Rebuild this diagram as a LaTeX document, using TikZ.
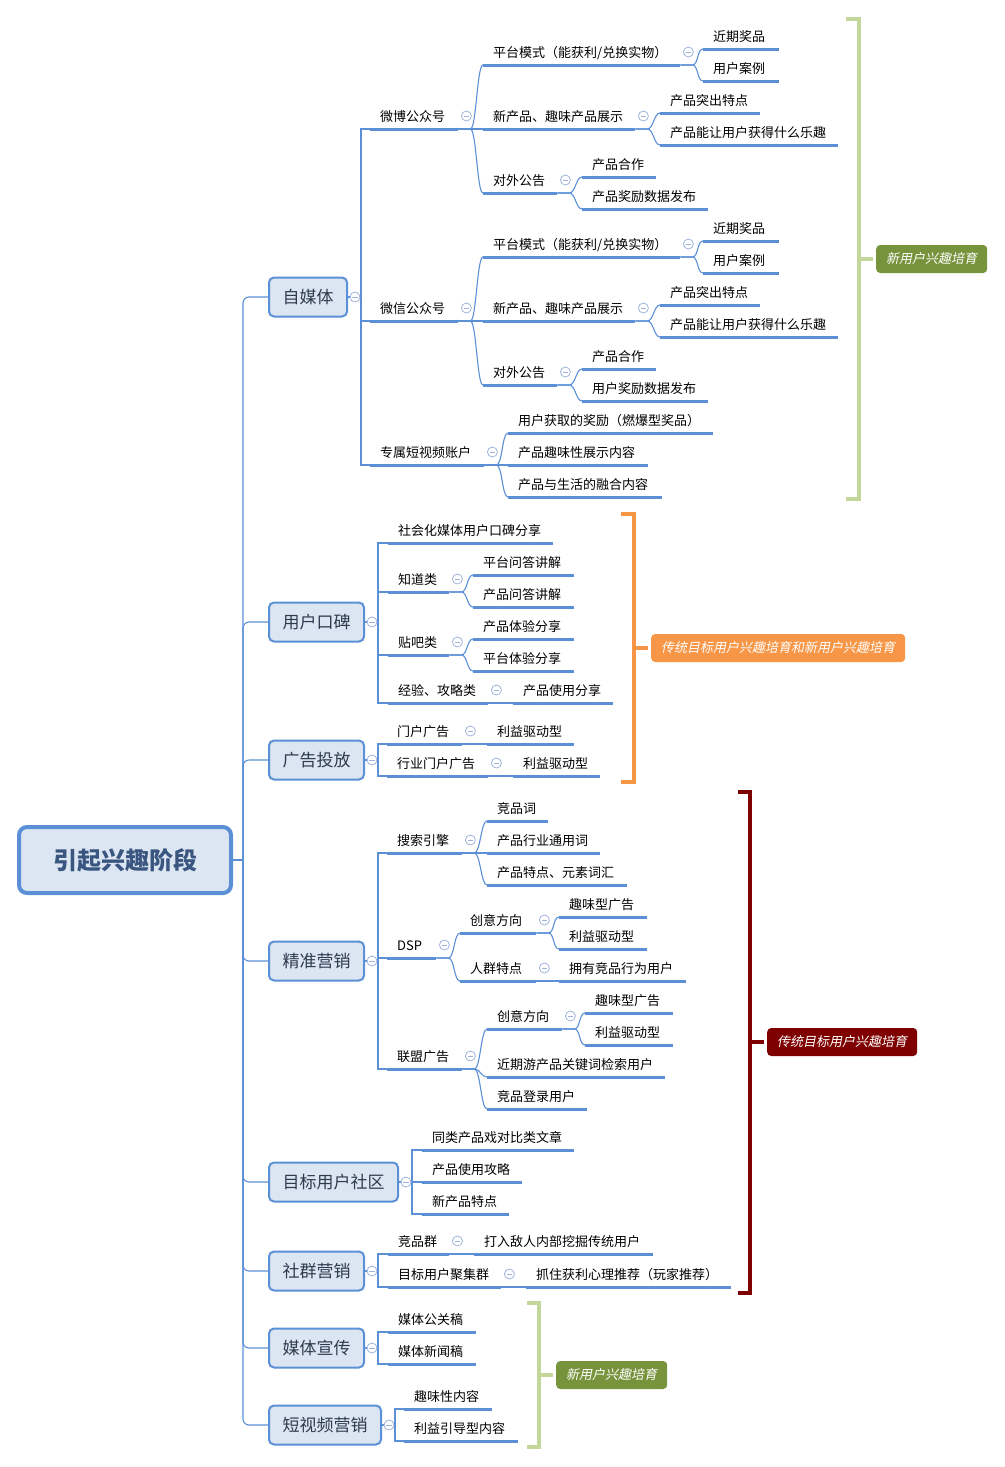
\documentclass[tikz,border=0pt]{standalone}
\usepackage{fontspec}
\setmainfont{Noto Sans CJK SC}
\newfontfamily\slantfont[FakeSlant=0.2]{Noto Sans CJK SC}

\definecolor{xblue}{HTML}{5B8FD6}
\definecolor{xpale}{HTML}{DCE6F2}
\definecolor{xtext}{HTML}{2E3B4E}
\definecolor{xroot}{HTML}{3A5680}
\definecolor{xfold}{HTML}{9FB4DC}
\definecolor{xgreenl}{HTML}{C4D79B}
\definecolor{xolive}{HTML}{77933C}
\definecolor{xorange}{HTML}{F79646}
\definecolor{xred}{HTML}{7F0000}

\tikzset{rootbox/.style = {draw=xblue, line width=4pt, fill=xpale, rounded corners=8pt,
                           minimum width=212pt, minimum height=66pt, text=xroot,
                           font=\fontsize{24}{28}\selectfont\bfseries},
         topbox/.style = {draw=xblue, line width=2pt, fill=xpale, rounded corners=5pt,
                          anchor=west, minimum height=39pt, inner xsep=13.5pt, text=xtext,
                          font=\fontsize{17}{20}\selectfont},
         sub/.style = {anchor=south west, inner xsep=10pt, inner ysep=5pt, align=left,
                       text height=11pt, text depth=2pt, font=\fontsize{13}{15}\selectfont},
         uline/.style = {draw=xblue, line width=3pt},
         conn/.style = {draw=xblue, line width=1.1pt},
         fold/.style = {circle, draw=xfold, fill=white, line width=0.8pt, minimum size=10pt,
                        inner sep=0pt,
                        path picture={\draw[xfold, line width=0.8pt]
                          ([xshift=-2.6pt]path picture bounding box.center) --
                          ([xshift=2.6pt]path picture bounding box.center);}},
         brk/.style = {line width=4pt},
         tag/.style = {anchor=west, rounded corners=4pt, minimum height=28pt, inner xsep=10pt,
                       text=white, font=\slantfont\fontsize{13}{15}\selectfont}
        }

\begin{document}
\begin{tikzpicture}[x=1pt,y=-1pt]
\useasboundingbox (0,0) rectangle (1004,1467);

% centre and main topics
\node[rootbox] at (125,860) (root) {引起兴趣阶段};
\node[topbox] at (268,297) (zm) {自媒体};
\node[topbox] at (268,622) (kb) {用户口碑};
\node[topbox] at (268,760) (gg) {广告投放};
\node[topbox] at (268,961) (jz) {精准营销};
\node[topbox] at (268,1182) (sq) {目标用户社区};
\node[topbox] at (268,1271) (sy) {社群营销};
\node[topbox] at (268,1348) (mt) {媒体宣传};
\node[topbox] at (268,1425) (dv) {短视频营销};

% 自媒体
\node[sub, text width=68pt] at (370,129) (wb) {微博公众号};
\node[sub, text width=68pt] at (370,321) (wx) {微信公众号};
\node[sub, text width=94pt] at (370,465) (zs) {专属短视频账户};
\node[sub, text width=177pt] at (483,65) (wb1) {平台模式（能获利/兑换实物）};
\node[sub, text width=132pt] at (483,129) (wb2) {新产品、趣味产品展示};
\node[sub, text width=54pt] at (483,193) (wb3) {对外公告};
\node[sub, text width=56pt] at (703,49) (wb11) {近期奖品};
\node[sub, text width=56pt] at (703,81) (wb12) {用户案例};
\node[sub, text width=80pt] at (660,113) (wb21) {产品突出特点};
\node[sub, text width=158pt] at (660,145) (wb22) {产品能让用户获得什么乐趣};
\node[sub, text width=54pt] at (582,177) (wb31) {产品合作};
\node[sub, text width=106pt] at (582,209) (wb32) {产品奖励数据发布};
\node[sub, text width=177pt] at (483,257) (wx1) {平台模式（能获利/兑换实物）};
\node[sub, text width=132pt] at (483,321) (wx2) {新产品、趣味产品展示};
\node[sub, text width=54pt] at (483,385) (wx3) {对外公告};
\node[sub, text width=56pt] at (703,241) (wx11) {近期奖品};
\node[sub, text width=56pt] at (703,273) (wx12) {用户案例};
\node[sub, text width=80pt] at (660,305) (wx21) {产品突出特点};
\node[sub, text width=158pt] at (660,337) (wx22) {产品能让用户获得什么乐趣};
\node[sub, text width=54pt] at (582,369) (wx31) {产品合作};
\node[sub, text width=106pt] at (582,401) (wx32) {用户奖励数据发布};
\node[sub, text width=185pt] at (508,433) (zs1) {用户获取的奖励（燃爆型奖品）};
\node[sub, text width=120pt] at (508,465) (zs2) {产品趣味性展示内容};
\node[sub, text width=134pt] at (508,497) (zs3) {产品与生活的融合内容};

% 用户口碑
\node[sub, text width=145pt] at (388,543) (kb1) {社会化媒体用户口碑分享};
\node[sub, text width=41pt] at (388,592) (kb2) {知道类};
\node[sub, text width=41pt] at (388,655) (kb3) {贴吧类};
\node[sub, text width=80pt] at (388,703) (kb4) {经验、攻略类};
\node[sub, text width=81pt] at (473,575) (kb21) {平台问答讲解};
\node[sub, text width=81pt] at (473,607) (kb22) {产品问答讲解};
\node[sub, text width=81pt] at (473,639) (kb31) {产品体验分享};
\node[sub, text width=81pt] at (473,671) (kb32) {平台体验分享};
\node[sub, text width=80pt] at (513,703) (kb41) {产品使用分享};

% 广告投放
\node[sub, text width=55pt] at (387,744) (gg1) {门户广告};
\node[sub, text width=81pt] at (387,776) (gg2) {行业门户广告};
\node[sub, text width=67pt] at (487,744) (gg11) {利益驱动型};
\node[sub, text width=67pt] at (513,776) (gg21) {利益驱动型};

% 精准营销
\node[sub, text width=55pt] at (387,853) (jz1) {搜索引擎};
\node[sub, text width=29pt] at (387,958) (jz2) {DSP};
\node[sub, text width=55pt] at (387,1069) (jz3) {联盟广告};
\node[sub, text width=41pt] at (487,821) (jz11) {竞品词};
\node[sub, text width=93pt] at (487,853) (jz12) {产品行业通用词};
\node[sub, text width=120pt] at (487,885) (jz13) {产品特点、元素词汇};
\node[sub, text width=56pt] at (460,933) (jz21) {创意方向};
\node[sub, text width=56pt] at (460,981) (jz22) {人群特点};
\node[sub, text width=68pt] at (559,917) (jz211) {趣味型广告};
\node[sub, text width=68pt] at (559,949) (jz212) {利益驱动型};
\node[sub, text width=107pt] at (559,981) (jz221) {拥有竞品行为用户};
\node[sub, text width=55pt] at (487,1029) (jz31) {创意方向};
\node[sub, text width=158pt] at (487,1077) (jz32) {近期游产品关键词检索用户};
\node[sub, text width=80pt] at (487,1109) (jz33) {竞品登录用户};
\node[sub, text width=68pt] at (585,1013) (jz311) {趣味型广告};
\node[sub, text width=68pt] at (585,1045) (jz312) {利益驱动型};

% 目标用户社区, 社群营销, 媒体宣传, 短视频营销
\node[sub, text width=132pt] at (422,1150) (sq1) {同类产品戏对比类文章};
\node[sub, text width=80pt] at (422,1182) (sq2) {产品使用攻略};
\node[sub, text width=67pt] at (422,1214) (sq3) {新产品特点};
\node[sub, text width=41pt] at (388,1254) (sy1) {竞品群};
\node[sub, text width=93pt] at (388,1287) (sy2) {目标用户聚集群};
\node[sub, text width=159pt] at (474,1254) (sy11) {打入敌人内部挖掘传统用户};
\node[sub, text width=185pt] at (526,1287) (sy21) {抓住获利心理推荐（玩家推荐）};
\node[sub, text width=68pt] at (388,1332) (mt1) {媒体公关稿};
\node[sub, text width=68pt] at (388,1364) (mt2) {媒体新闻稿};
\node[sub, text width=68pt] at (404,1409) (dv1) {趣味性内容};
\node[sub, text width=94pt] at (404,1441) (dv2) {利益引导型内容};

% trunk
\draw[conn] (root.east) -- ++(10,0) coordinate (tr);
\foreach \c in {zm,kb,gg,jz,sq,sy,mt,dv}
  \draw[conn, rounded corners=6pt] (tr) |- (\c.west);

% main topics to their subtopics
\foreach \p/\c in {zm/wb,zm/wx,zm/zs,kb/kb1,kb/kb2,kb/kb3,kb/kb4,gg/gg1,gg/gg2,
                   jz/jz1,jz/jz2,jz/jz3,sq/sq1,sq/sq2,sq/sq3,sy/sy1,sy/sy2,
                   mt/mt1,mt/mt2,dv/dv1,dv/dv2}
  \draw[conn] (\p.east) -- ++(13,0) |- (\c.south west);

% deeper branches
\foreach \p/\c in {wb/wb1,wb/wb2,wb/wb3,wb1/wb11,wb1/wb12,wb2/wb21,wb2/wb22,wb3/wb31,wb3/wb32,
                   wx/wx1,wx/wx2,wx/wx3,wx1/wx11,wx1/wx12,wx2/wx21,wx2/wx22,wx3/wx31,wx3/wx32,
                   zs/zs1,zs/zs2,zs/zs3,kb2/kb21,kb2/kb22,kb3/kb31,kb3/kb32,kb4/kb41,
                   gg1/gg11,gg2/gg21,jz1/jz11,jz1/jz12,jz1/jz13,jz2/jz21,jz2/jz22,
                   jz21/jz211,jz21/jz212,jz22/jz221,jz3/jz31,jz3/jz32,jz3/jz33,
                   jz31/jz311,jz31/jz312,sy1/sy11,sy2/sy21}
  \draw[conn] (\p.south east) -- ++(12,0) .. controls +(6,0) and +(-6,0) .. (\c.south west);

% underlines
\foreach \n in {wb,wx,zs,wb1,wb2,wb3,wb11,wb12,wb21,wb22,wb31,wb32,
                wx1,wx2,wx3,wx11,wx12,wx21,wx22,wx31,wx32,zs1,zs2,zs3,
                kb1,kb2,kb3,kb4,kb21,kb22,kb31,kb32,kb41,gg1,gg2,gg11,gg21,
                jz1,jz2,jz3,jz11,jz12,jz13,jz21,jz22,jz211,jz212,jz221,
                jz31,jz32,jz33,jz311,jz312,sq1,sq2,sq3,sy1,sy2,sy11,sy21,
                mt1,mt2,dv1,dv2}
  \draw[uline] (\n.south west) -- (\n.south east);

% fold markers
\foreach \n in {zm,kb,gg,jz,sq,sy,mt,dv}
  \node[fold] at ([xshift=7pt]\n.east) (f\n) {};
\foreach \n in {wb,wx,zs,wb1,wb2,wb3,wx1,wx2,wx3,kb2,kb3,kb4,gg1,gg2,
                jz1,jz2,jz3,jz21,jz22,jz31,sy1,sy2}
  \node[fold] at ([shift={(8,-13)}]\n.south east) (f\n) {};

% summaries
\draw[brk, draw=xgreenl] (846,19) -- (859,19) -- (859,499) -- (846,499);
\coordinate (b1) at (859,259);
\node[tag, fill=xolive] at (876,259) (t1) {新用户兴趣培育};
\draw[brk, draw=xgreenl] (b1) -- ([xshift=-3pt]t1.west);

\draw[brk, draw=xorange] (621,514) -- (634,514) -- (634,782) -- (621,782);
\coordinate (b2) at (634,648);
\node[tag, fill=xorange] at (651,648) (t2) {传统目标用户兴趣培育和新用户兴趣培育};
\draw[brk, draw=xorange] (b2) -- ([xshift=-3pt]t2.west);

\draw[brk, draw=xred] (738,792) -- (750,792) -- (750,1293) -- (738,1293);
\coordinate (b3) at (750,1042);
\node[tag, fill=xred] at (767,1042) (t3) {传统目标用户兴趣培育};
\draw[brk, draw=xred] (b3) -- ([xshift=-3pt]t3.west);

\draw[brk, draw=xgreenl] (527,1303) -- (539,1303) -- (539,1447) -- (527,1447);
\coordinate (b4) at (539,1375);
\node[tag, fill=xolive] at (556,1375) (t4) {新用户兴趣培育};
\draw[brk, draw=xgreenl] (b4) -- ([xshift=-3pt]t4.west);
\end{tikzpicture}
\end{document}
